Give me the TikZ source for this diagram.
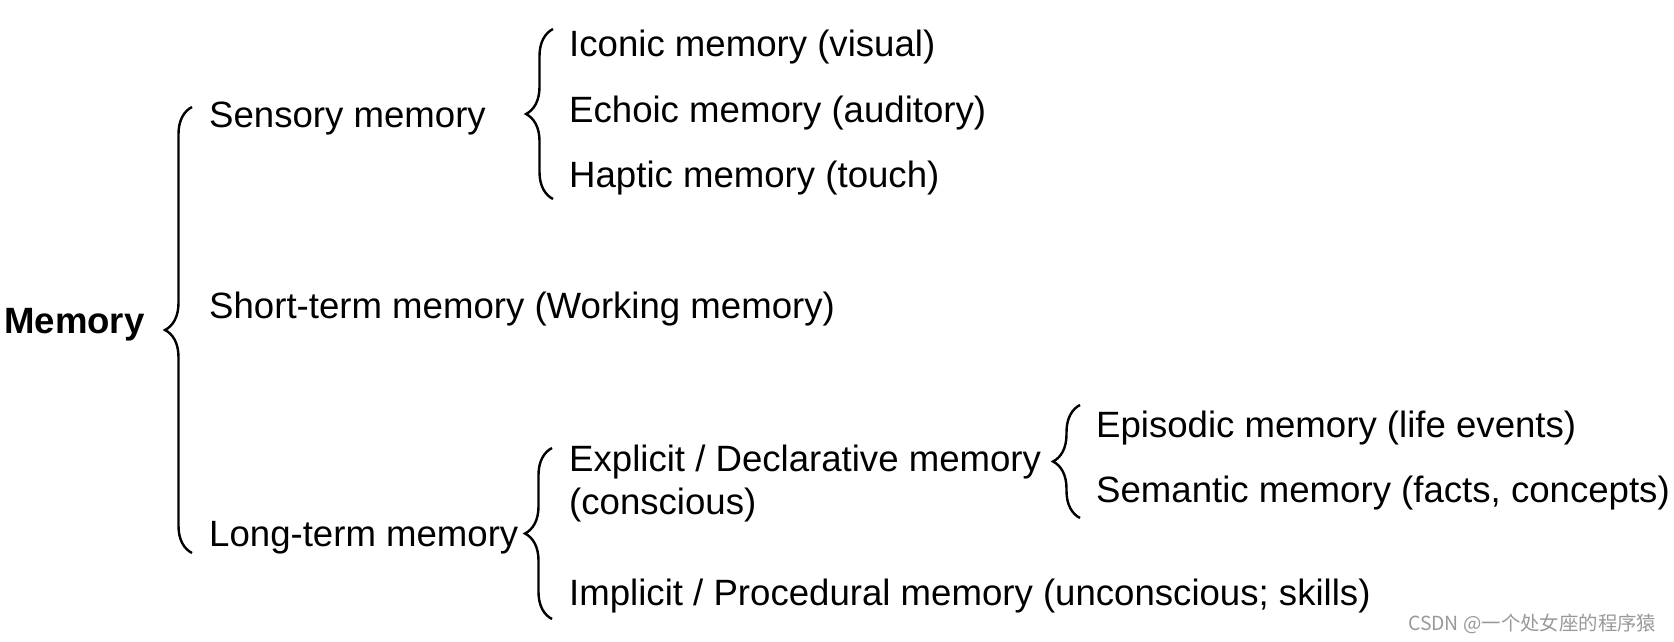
\documentclass[tikz,border=0pt]{standalone}
\usepackage{fontspec}
\setmainfont{Liberation Sans}
\newfontfamily\cjk{Noto Sans CJK SC}
\usepackage{tikz}
\usetikzlibrary{decorations.pathreplacing}

\tikzset{
  item/.style={anchor=base west, inner sep=0pt, font=\fontsize{36.6}{44}\selectfont},
  curly/.style={decorate, decoration={brace, amplitude=27pt}, line width=2.4pt},
}

\begin{document}
\begin{tikzpicture}[x=1pt,y=-1pt]
\useasboundingbox (0,0) rectangle (1674,642);

	% root
	\node[item,font=\fontsize{36.6}{44}\selectfont\bfseries] (memory) at (4,333) {Memory};
	% first level
	\node[item] (sensory) at (209,127) {Sensory memory};
	\node[item] (shortterm) at (209,318) {Short-term memory (Working memory)};
	\node[item] (longterm) at (209,546) {Long-term memory};
	% sensory memory types
	\node[item] (iconic) at (569,57) {Iconic memory (visual)};
	\node[item] (echoic) at (569,122) {Echoic memory (auditory)};
	\node[item] (haptic) at (569,187) {Haptic memory (touch)};
	% long-term memory types
	\node[item] (explicit) at (569,471) {Explicit / Declarative memory};
	\node[item] (conscious) at (569,514) {(conscious)};
	\node[item] (implicit) at (569,605) {Implicit / Procedural memory (unconscious; skills)};
	% explicit memory types
	\node[item] (episodic) at (1096,437) {Episodic memory (life events)};
	\node[item] (semantic) at (1096,502) {Semantic memory (facts, concepts)};

	%brace ends
	\coordinate (memTop) at (192,107);
	\coordinate (memBot) at (192,553);
	\coordinate (sensTop) at (553,29);
	\coordinate (sensBot) at (553,199);
	\coordinate (longTop) at (552,448);
	\coordinate (longBot) at (552,619);
	\coordinate (explTop) at (1080,405);
	\coordinate (explBot) at (1080,518);

	%draw braces
	\draw[curly] (memBot) -- (memTop);
	\draw[curly] (sensBot) -- (sensTop);
	\draw[curly] (longBot) -- (longTop);
	\draw[curly] (explBot) -- (explTop);

	%watermark
	\node[anchor=base west, inner sep=0pt, text=black!40, font=\fontsize{19.4}{22}\selectfont\cjk] (mark) at (1408,630) {CSDN @一个处女座的程序猿};

\end{tikzpicture}
\end{document}
